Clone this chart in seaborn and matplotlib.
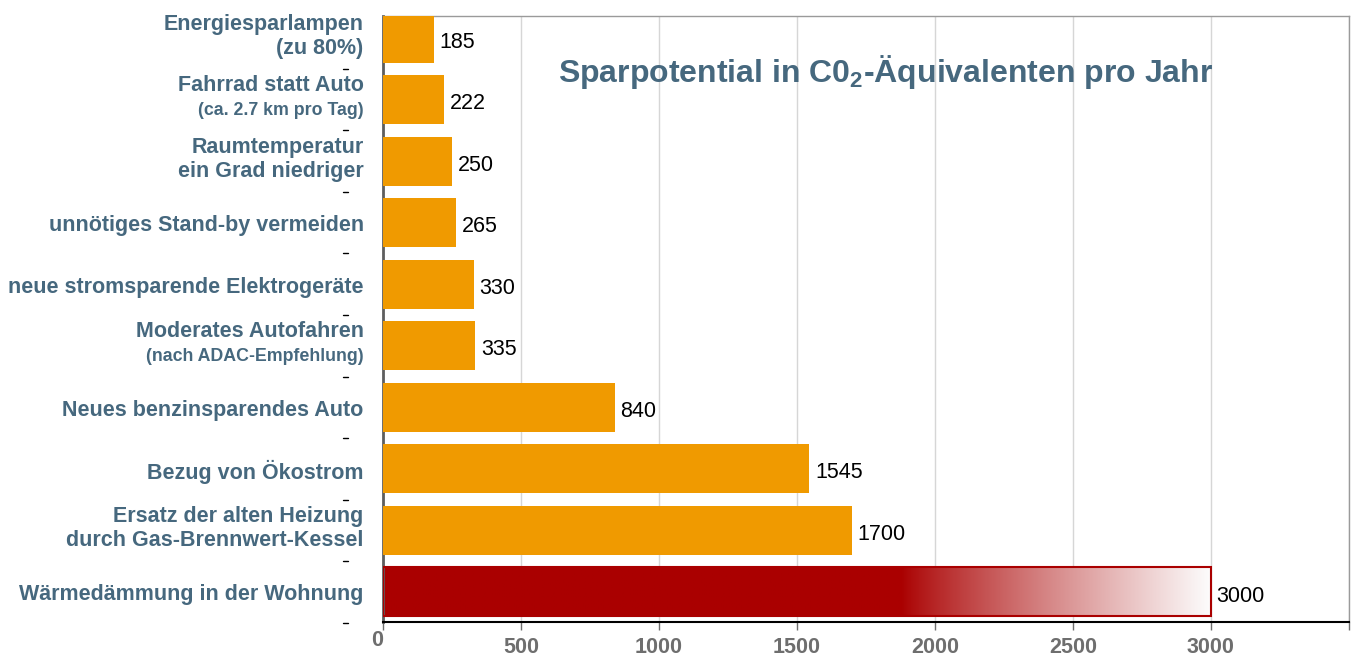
import numpy as np
import matplotlib
matplotlib.use("Agg")
import matplotlib.pyplot as plt
import matplotlib.transforms as mtransforms
import seaborn as sns

# Savings potential per measure (kg CO2 equivalents per year)
main_labels = [
    "Energiesparlampen",
    "Fahrrad statt Auto",
    "Raumtemperatur",
    "unnötiges Stand-by vermeiden",
    "neue stromsparende Elektrogeräte",
    "Moderates Autofahren",
    "Neues benzinsparendes Auto",
    "Bezug von Ökostrom",
    "Ersatz der alten Heizung",
    "Wärmedämmung in der Wohnung",
]
sub_labels = [
    "(zu 80%)",
    "(ca. 2.7 km pro Tag)",
    "ein Grad niedriger",
    "",
    "",
    "(nach ADAC-Empfehlung)",
    "",
    "",
    "durch Gas-Brennwert-Kessel",
    "",
]
sub_is_small = [False, True, False, False, False, True, False, False, False, False]
values = [185, 222, 250, 265, 330, 335, 840, 1545, 1700, 3000]
x_ticks = [0, 500, 1000, 1500, 2000, 2500, 3000, 3500]
x_tick_labels = ["0", "500", "1000", "1500", "2000", "2500", "3000", ""]
title = "Sparpotential in C0$_\\mathbf{2}$-Äquivalenten pro Jahr"

ORANGE = "#F09A00"
DARK_RED = "#AA0000"
SLATE = "#46687E"
GRID = "#D6D6D6"

sns.set_theme(style="white")
plt.rcParams["font.family"] = ["Liberation Sans", "DejaVu Sans"]
plt.rcParams["mathtext.fontset"] = "custom"
plt.rcParams["mathtext.rm"] = "Liberation Sans:bold"
plt.rcParams["mathtext.bf"] = "Liberation Sans:bold"
plt.rcParams["mathtext.it"] = "Liberation Sans:bold"

fig = plt.figure(figsize=(13.51, 6.57), dpi=100)
ax = fig.add_axes([0.2835, 0.0533, 0.7150, 0.9223])

ids = [str(i) for i in range(len(values))]
colors = [ORANGE] * (len(values) - 1) + [DARK_RED]
sns.barplot(x=values, y=ids, hue=ids, palette=colors, orient="h", saturation=1,
            width=0.8, legend=False, ax=ax, zorder=3, linewidth=0)

# Last bar: solid red fading out to white, outlined in red
last = ax.patches[-1]
last.set_facecolor("none")
last.set_edgecolor(DARK_RED)
last.set_linewidth(1.5)
x0, y0 = last.get_x(), last.get_y()
w, h = last.get_width(), last.get_height()
xs = np.linspace(0, 1, 600)
fade_start = 0.627
t = np.clip((xs - fade_start) / (1 - fade_start), 0, 1)
t = t ** 0.85
red = np.array([0xAA, 0x00, 0x00]) / 255
white = np.array([0.99, 0.99, 0.99])
grad = red[None, :] * (1 - t[:, None]) + white[None, :] * t[:, None]
img = ax.imshow(grad[None, :, :], extent=(x0, x0 + w, y0 + h, y0),
                aspect="auto", zorder=2.5, interpolation="bilinear")
img.set_clip_path(last)

# Value labels from the bar containers, set slightly below the bar centre
for cont in ax.containers:
    for txt in ax.bar_label(cont, padding=4, fontsize=15.5, color="black"):
        txt.xyann = (4, -3)

ax.set_xlim(0, 3500)
ax.set_ylim(9.49, -0.36)

ax.set_xticks(x_ticks)
ax.set_xticklabels(x_tick_labels, fontsize=15.5, fontweight="bold", color="#6E6E6E")
ax.tick_params(axis="x", length=6, width=1, color="#6E6E6E", pad=5, direction="out",
               bottom=True)
# the zero label sits a little left of and above the others
zero_lbl = ax.get_xticklabels()[0]
zero_lbl.set_transform(zero_lbl.get_transform() +
                       mtransforms.ScaledTranslation(-4 / 72, 5 / 72, fig.dpi_scale_trans))
ax.set_yticks([])
ax.set_ylabel("")
ax.set_xlabel("")

ax.xaxis.grid(True, color=GRID, linewidth=1, zorder=0)
ax.set_axisbelow(True)

for side in ["top", "right"]:
    ax.spines[side].set_visible(True)
    ax.spines[side].set_color("#9A9A9A")
    ax.spines[side].set_linewidth(1)
ax.spines["left"].set_color("#5E5E5E")
ax.spines["left"].set_linewidth(2)
ax.spines["bottom"].set_color("black")
ax.spines["bottom"].set_linewidth(1.5)

# Category labels: bold main line, optional second line
trans = mtransforms.blended_transform_factory(ax.transAxes, ax.transData)
label_x = -0.020
for i, (main, sub, small) in enumerate(zip(main_labels, sub_labels, sub_is_small)):
    if not sub:
        ax.text(label_x, i + 0.05, main, transform=trans, ha="right", va="center",
                fontsize=15.5, fontweight="bold", color=SLATE)
    else:
        ax.text(label_x, i - 0.23, main, transform=trans, ha="right", va="center",
                fontsize=15.5, fontweight="bold", color=SLATE)
        ax.text(label_x, i + 0.17, sub, transform=trans, ha="right", va="center",
                fontsize=12.8 if small else 15.5, fontweight="bold", color=SLATE)

# Small separator marks between categories
for i in range(len(values)):
    ax.plot([-0.041, -0.036], [i + 0.5, i + 0.5], transform=trans,
            color="black", linewidth=1, clip_on=False)

ax.text(0.52, 0.908, title, transform=ax.transAxes, ha="center", va="center",
        fontsize=23, fontweight="bold", color=SLATE, zorder=5)

fig.savefig("out.png", dpi=100)
